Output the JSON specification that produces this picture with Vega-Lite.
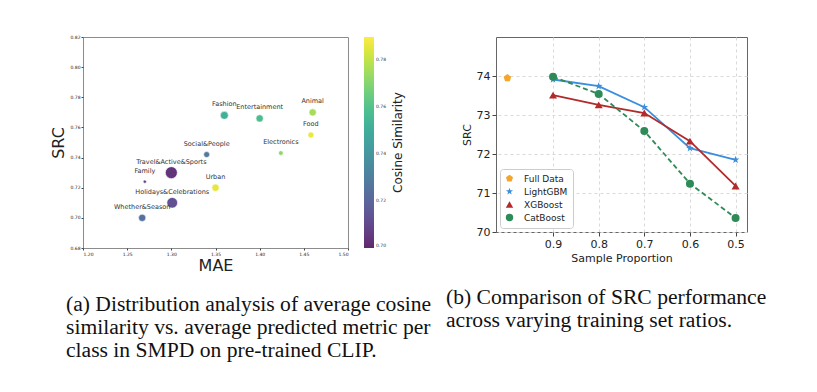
{
  "$schema": "https://vega.github.io/schema/vega-lite/v6.json",
  "background": "white",
  "padding": {"left": 50, "top": 33, "right": 5, "bottom": 5},
  "bounds": "flush",
  "spacing": 148,
  "resolve": {
    "scale": {"color": "independent", "shape": "independent", "size": "independent"},
    "legend": {"color": "independent", "shape": "independent", "size": "independent"}
  },
  "config": {
    "font": "DejaVu Sans",
    "axis": {"labelColor": "#222", "titleColor": "#222", "tickColor": "#444", "titleFontWeight": "normal"},
    "title": {"font": "Liberation Serif", "fontWeight": "normal", "color": "#111"}
  },
  "hconcat": [
    {
      "width": 265,
      "height": 211,
      "view": {"stroke": "#8c8c8c", "strokeWidth": 1},
      "title": {
        "text": ["(a) Distribution analysis of average cosine", "similarity vs. average predicted metric per", "class in SMPD on pre-trained CLIP."],
        "orient": "bottom",
        "anchor": "start",
        "frame": "group",
        "fontSize": 21.6,
        "lineHeight": 23,
        "offset": 20,
        "dx": -17
      },
      "data": {
        "values": [
          {"cls": "Fashion", "mae": 1.36, "src": 0.768, "cos": 0.752, "count": 64},
          {"cls": "Entertainment", "mae": 1.40, "src": 0.766, "cos": 0.758, "count": 54},
          {"cls": "Animal", "mae": 1.46, "src": 0.770, "cos": 0.776, "count": 54},
          {"cls": "Food", "mae": 1.458, "src": 0.755, "cos": 0.787, "count": 36},
          {"cls": "Electronics", "mae": 1.424, "src": 0.743, "cos": 0.772, "count": 22},
          {"cls": "Social&People", "mae": 1.34, "src": 0.742, "cos": 0.728, "count": 36},
          {"cls": "Travel&Active&Sports", "mae": 1.30, "src": 0.730, "cos": 0.704, "count": 144},
          {"cls": "Family", "mae": 1.27, "src": 0.724, "cos": 0.71, "count": 11},
          {"cls": "Urban", "mae": 1.35, "src": 0.720, "cos": 0.786, "count": 54},
          {"cls": "Holidays&Celebrations", "mae": 1.301, "src": 0.710, "cos": 0.713, "count": 114},
          {"cls": "Whether&Season", "mae": 1.267, "src": 0.700, "cos": 0.725, "count": 54}
        ]
      },
      "encoding": {
        "x": {
          "field": "mae", "type": "quantitative",
          "scale": {"domain": [1.2, 1.5], "nice": false, "zero": false},
          "axis": {"values": [1.2, 1.25, 1.3, 1.35, 1.4, 1.45, 1.5], "format": ".2f", "title": "MAE", "titleFontSize": 16, "labelFontSize": 4.5, "tickSize": 2, "labelPadding": 1, "domain": false, "grid": false, "titlePadding": 2}
        }
      },
      "resolve": {"scale": {"y": "independent"}, "axis": {"y": "independent"}},
      "layer": [
        {
          "encoding": {
            "y": {
              "field": "src", "type": "quantitative",
              "scale": {"domain": [0.68, 0.82], "nice": false, "zero": false},
              "axis": {"orient": "left", "values": [0.68, 0.7, 0.72, 0.74, 0.76, 0.78, 0.8, 0.82], "format": ".2f", "title": "SRC", "titleFontSize": 16, "labelFontSize": 4.5, "tickSize": 2, "labelPadding": 1, "domain": false, "grid": false, "titlePadding": 3}
            }
          },
          "layer": [
            {
              "mark": {"type": "circle", "opacity": 0.85, "stroke": "white", "strokeWidth": 0.6},
              "encoding": {
                "color": {
                  "field": "cos", "type": "quantitative",
                  "scale": {"scheme": "viridis", "domain": [0.70, 0.79]},
                  "legend": {
                    "type": "gradient",
                    "title": null,
                    "orient": "none",
                    "legendX": 281,
                    "legendY": 0,
                    "gradientLength": 211,
                    "gradientThickness": 10,
                    "values": [0.70, 0.72, 0.74, 0.76, 0.78],
                    "format": ".2f",
                    "labelFontSize": 4.5,
                    "labelColor": "#333",
                    "gradientStrokeColor": "#888"
                  }
                },
                "size": {
                  "field": "count", "type": "quantitative",
                  "scale": {"type": "linear", "domain": [0, 144], "range": [0, 144]},
                  "legend": null
                }
              }
            },
            {
              "mark": {"type": "text", "dy": -11, "fontSize": 6.5, "font": "DejaVu Sans", "color": "#333", "baseline": "middle"},
              "encoding": {"text": {"field": "cls"}}
            }
          ]
        },
        {
          "mark": {"type": "point", "opacity": 0},
          "encoding": {
            "y": {
              "field": "cos", "type": "quantitative",
              "scale": {"domain": [0.70, 0.79], "nice": false, "zero": false},
              "axis": {"orient": "right", "labels": false, "ticks": false, "domain": false, "grid": false, "title": "Cosine Similarity", "titleFontSize": 12, "titleColor": "#222", "titleAngle": 270, "titleX": 49, "titleY": 105, "titleAlign": "center", "titleBaseline": "middle"}
            }
          }
        }
      ]
    },
    {
      "width": 251,
      "height": 195,
      "view": {"stroke": "#666", "strokeWidth": 1},
      "title": {
        "text": ["(b) Comparison of SRC performance", "across varying training set ratios."],
        "orient": "bottom",
        "anchor": "start",
        "frame": "group",
        "fontSize": 21.6,
        "lineHeight": 23,
        "offset": 24,
        "dx": -50
      },
      "data": {
        "values": [
          {"model": "Full Data", "prop": 1.0, "srcv": 73.95},
          {"model": "LightGBM", "prop": 0.9, "srcv": 73.91},
          {"model": "LightGBM", "prop": 0.8, "srcv": 73.74},
          {"model": "LightGBM", "prop": 0.7, "srcv": 73.2},
          {"model": "LightGBM", "prop": 0.6, "srcv": 72.15},
          {"model": "LightGBM", "prop": 0.5, "srcv": 71.85},
          {"model": "XGBoost", "prop": 0.9, "srcv": 73.51},
          {"model": "XGBoost", "prop": 0.8, "srcv": 73.26},
          {"model": "XGBoost", "prop": 0.7, "srcv": 73.05},
          {"model": "XGBoost", "prop": 0.6, "srcv": 72.33},
          {"model": "XGBoost", "prop": 0.5, "srcv": 71.18},
          {"model": "CatBoost", "prop": 0.9, "srcv": 73.98},
          {"model": "CatBoost", "prop": 0.8, "srcv": 73.54},
          {"model": "CatBoost", "prop": 0.7, "srcv": 72.59},
          {"model": "CatBoost", "prop": 0.6, "srcv": 71.24},
          {"model": "CatBoost", "prop": 0.5, "srcv": 70.36}
        ]
      },
      "encoding": {
        "x": {
          "field": "prop", "type": "quantitative",
          "scale": {"domain": [0.475, 1.025], "reverse": true, "nice": false, "zero": false},
          "axis": {"values": [0.5, 0.6, 0.7, 0.8, 0.9], "format": ".1f", "title": "Sample Proportion", "titleFontSize": 11, "labelFontSize": 11, "tickSize": 4, "domain": false, "grid": true, "gridDash": [3, 3], "gridColor": "#d9d9d9", "titlePadding": 3}
        },
        "y": {
          "field": "srcv", "type": "quantitative",
          "scale": {"domain": [70, 75], "nice": false, "zero": false},
          "axis": {"values": [70, 71, 72, 73, 74], "format": "d", "title": "SRC", "titleFontSize": 11, "labelFontSize": 11, "tickSize": 4, "domain": false, "grid": true, "gridDash": [3, 3], "gridColor": "#d9d9d9", "titlePadding": 4}
        }
      },
      "layer": [
        {
          "transform": [{"filter": "datum.model === 'LightGBM'"}],
          "mark": {"type": "line", "strokeWidth": 1.8, "color": "#3A8EDB"},
          "encoding": {}
        },
        {
          "transform": [{"filter": "datum.model === 'XGBoost'"}],
          "mark": {"type": "line", "strokeWidth": 1.8, "color": "#B22A2A"},
          "encoding": {}
        },
        {
          "transform": [{"filter": "datum.model === 'CatBoost'"}],
          "mark": {"type": "line", "strokeWidth": 1.8, "color": "#2E8B57", "strokeDash": [5, 3]},
          "encoding": {}
        },
        {
          "mark": {"type": "point", "filled": true, "opacity": 1, "size": 64},
          "encoding": {
            "color": {
              "field": "model", "type": "nominal",
              "scale": {"domain": ["Full Data", "LightGBM", "XGBoost", "CatBoost"], "range": ["#F4A62A", "#3A8EDB", "#B22A2A", "#2E8B57"]},
              "legend": {
                "orient": "bottom-left", "title": null, "offset": 4, "strokeColor": "#cccccc", "fillColor": "white", "padding": 5, "cornerRadius": 3, "labelFontSize": 9, "labelColor": "#222", "symbolSize": 55, "rowPadding": 3, "labelOffset": 10, "symbolStrokeWidth": 0,
                "encode": {"symbols": {"shape": {"value": {"expr": "datum.value === 'Full Data' ? 'M0,-1L0.951,-0.309L0.588,0.809L-0.588,0.809L-0.951,-0.309Z' : datum.value === 'LightGBM' ? 'M-2.6,-0.22L2.6,-0.22L2.6,0.22L-2.6,0.22Z M0,-1L0.235,-0.324L0.951,-0.309L0.380,0.124L0.588,0.809L0,0.4L-0.588,0.809L-0.380,0.124L-0.951,-0.309L-0.235,-0.324Z' : datum.value === 'XGBoost' ? 'M-2.6,-0.22L2.6,-0.22L2.6,0.22L-2.6,0.22Z M0,-1.1L1,0.75L-1,0.75Z' : 'M-2.6,-0.22L-1.4,-0.22L-1.4,0.22L-2.6,0.22Z M1.4,-0.22L2.6,-0.22L2.6,0.22L1.4,0.22Z M1,0A1,1 0 1,1 -1,0A1,1 0 1,1 1,0Z'"}}}}
              }
            },
            "shape": {
              "field": "model", "type": "nominal",
              "scale": {"domain": ["Full Data", "LightGBM", "XGBoost", "CatBoost"], "range": ["M0,-1L0.951,-0.309L0.588,0.809L-0.588,0.809L-0.951,-0.309Z", "M0,-1L0.235,-0.324L0.951,-0.309L0.380,0.124L0.588,0.809L0,0.4L-0.588,0.809L-0.380,0.124L-0.951,-0.309L-0.235,-0.324Z", "triangle-up", "circle"]},
              "legend": {
                "orient": "bottom-left", "title": null, "offset": 4, "strokeColor": "#cccccc", "fillColor": "white", "padding": 5, "cornerRadius": 3, "labelFontSize": 9, "labelColor": "#222", "symbolSize": 55, "rowPadding": 3, "labelOffset": 10, "symbolStrokeWidth": 0,
                "encode": {"symbols": {"shape": {"value": {"expr": "datum.value === 'Full Data' ? 'M0,-1L0.951,-0.309L0.588,0.809L-0.588,0.809L-0.951,-0.309Z' : datum.value === 'LightGBM' ? 'M-2.6,-0.22L2.6,-0.22L2.6,0.22L-2.6,0.22Z M0,-1L0.235,-0.324L0.951,-0.309L0.380,0.124L0.588,0.809L0,0.4L-0.588,0.809L-0.380,0.124L-0.951,-0.309L-0.235,-0.324Z' : datum.value === 'XGBoost' ? 'M-2.6,-0.22L2.6,-0.22L2.6,0.22L-2.6,0.22Z M0,-1.1L1,0.75L-1,0.75Z' : 'M-2.6,-0.22L-1.4,-0.22L-1.4,0.22L-2.6,0.22Z M1.4,-0.22L2.6,-0.22L2.6,0.22L1.4,0.22Z M1,0A1,1 0 1,1 -1,0A1,1 0 1,1 1,0Z'"}}}}
              }
            }
          }
        }
      ]
    }
  ]
}
